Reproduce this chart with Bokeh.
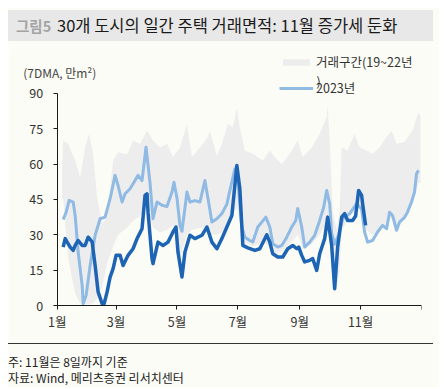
from bokeh.plotting import figure
from bokeh.models import Range1d, FixedTicker, Legend, LegendItem, Label, Div
from bokeh.layouts import column
from bokeh.embed import file_html
from bokeh.resources import INLINE

# ---------------- data (day of year, 7DMA, 만m²) ----------------
month_ticks = [0, 59, 120, 181, 243, 304, 365]
month_labels = ["1월", "3월", "5월", "7월", "9월", "11월", ""]
y_ticks = [0, 15, 30, 45, 60, 75, 90]

band_days = [5, 6, 11, 18, 23, 28, 32, 36, 40, 45, 50, 56, 61, 70, 76, 83, 90, 96, 103, 110,
             116, 123, 130, 135, 143, 150, 153, 160, 165, 171, 176, 180, 183, 188, 196, 206,
             213, 218, 225, 233, 241, 246, 255, 263, 270, 271, 273, 276, 280, 283, 285, 291,
             298, 303, 310, 316, 323, 330, 335, 340, 348, 356, 362, 364]
band_upper = [60, 70, 68.6, 61.5, 54.4, 67.1, 72.8, 64.3, 46, 34.7, 37.5, 61.5, 65, 64, 70,
              68.6, 74.2, 70, 67, 68.6, 63, 67, 77, 63, 67, 70.7, 74.2, 63.5, 68.6, 77, 75.5,
              84, 75.5, 65.7, 64.3, 61.5, 65.7, 63, 60, 64.3, 70, 63, 67, 72.8, 80, 84.8, 70,
              40, 32, 40, 67, 65.7, 72.8, 67, 65.7, 64.3, 67, 71.4, 74.2, 68.6, 69.3, 74.2,
              82, 80]
band_lower = [45, 45, 20, 5, 1, 0.5, 0.5, 1, 3, 8, 18, 25, 30, 33, 36, 38, 42, 33, 31, 32,
              34, 20, 30, 32, 33, 33, 30, 30, 31, 34, 38, 42, 35, 27, 25, 27, 25, 22, 23, 26,
              30, 24, 26, 30, 35, 35, 28, 10, 8, 15, 32, 36, 40, 42, 32, 30, 32, 35, 37, 33,
              38, 44, 52, 52]

days_2023 = [6, 9, 12, 16, 18, 21, 25, 26, 29, 33, 38, 43, 48, 53, 58, 61, 65, 68, 73, 78,
             81, 85, 89, 93, 96, 100, 105, 110, 115, 117, 120, 123, 125, 130, 133, 138, 143,
             148, 151, 155, 160, 165, 170, 173, 178, 180, 185, 188, 193, 196, 201, 205, 209,
             213, 216, 221, 225, 230, 235, 239, 241, 245, 248, 253, 258, 263, 267, 270, 273,
             275, 278, 282, 286, 293, 300, 305, 308, 311, 316, 321, 326, 330, 333, 336, 340,
             343, 348, 351, 355, 358, 360, 362]
vals_2023 = [36.5, 39.6, 44.6, 43.9, 38.2, 22.7, 8.6, 0.8, 4.4, 17, 29.8, 36.8, 37.5, 45.3,
             55.2, 50.9, 43.9, 47.4, 49.5, 53, 55.2, 53, 67.1, 52, 36.8, 43.9, 42.5, 42, 48.1,
             52.3, 45.6, 34, 31.5, 48.1, 43.9, 44.5, 43.9, 53, 45.6, 35.4, 36.8, 39, 43,
             48.8, 58, 58, 33.3, 29, 27.6, 27, 33.3, 35.4, 37.5, 33.3, 26.2, 24.8, 25.5, 29,
             33.3, 36.1, 41.1, 33.3, 24.8, 26.9, 29.8, 36.1, 41.7, 48.8, 43.2, 30.6, 26, 30,
             36.8, 39, 43.2, 41, 31.2, 26.9, 27.6, 31.2, 34, 32.6, 39.6, 38.2, 31.9, 35.4,
             37.4, 39.6, 43.9, 48.1, 55.9, 57.3]

days_2024 = [6, 8, 10, 13, 16, 18, 21, 25, 28, 31, 35, 38, 41, 45, 47, 50, 53, 56, 59, 63,
             66, 71, 76, 80, 85, 88, 90, 91, 95, 96, 101, 106, 111, 116, 119, 121, 125, 128,
             133, 138, 145, 150, 155, 160, 165, 170, 175, 180, 183, 186, 191, 198, 203, 210,
             213, 216, 221, 226, 231, 236, 240, 242, 245, 248, 253, 256, 260, 263, 268, 271,
             275, 278, 281, 285, 288, 291, 296, 299, 302, 305, 306, 309]
vals_2024 = [24.8, 28.4, 26.9, 24.8, 23.4, 25.5, 27.6, 25.5, 25.5, 29, 27, 17, 5.8, 0.8, 0.8,
             5.8, 12.1, 15.7, 21.3, 21.3, 17, 21.3, 24.1, 28.4, 32.6, 46.7, 47.4, 39.6, 19.9,
             17.8, 26.9, 25.5, 26.9, 31.2, 33.3, 22.7, 12.1, 22.7, 29.8, 28.4, 29.8, 33.3,
             26.9, 24.1, 28.4, 33.3, 38.2, 59.4, 49.5, 25.5, 24.5, 23.4, 24.1, 30, 26.9, 22,
             20.6, 20.6, 24.1, 25.5, 24.1, 24.8, 21.3, 18.5, 19.2, 19.9, 14.9, 22, 28.4, 37.5,
             25.5, 7.2, 24.8, 37.5, 39, 36.1, 36.1, 38, 48.8, 46.7, 43.2, 34]

title_tag = "그림5"
title_text = "30개 도시의 일간 주택 거래면적: 11월 증가세 둔화"
y_unit = "(7DMA, 만m²)"
legend_band = "거래구간(19~22년"
legend_2023 = "2023년"
note_lines = ["주: 11월은 8일까지 기준", "자료: Wind, 메리츠증권 리서치센터"]

# ---------------- style ----------------
BG = "#FCFCF6"
FONT = "Noto Sans CJK KR"
BAND = "#EDEDED"
LIGHT = "#8FBAE4"
DARK = "#1E64B4"
TXT = "#333333"

p = figure(width=431, height=290, output_backend="svg", toolbar_location=None,
           x_range=Range1d(-48.8, 365), y_range=Range1d(-12.66, 108.1),
           min_border_left=0, min_border_right=18, min_border_top=5, min_border_bottom=0,
           background_fill_color=BG, border_fill_color=BG, outline_line_color=None)
p.grid.visible = False

band = p.varea(x=band_days, y1=band_lower, y2=band_upper, fill_color=BAND)
l23 = p.line(days_2023, vals_2023, line_color=LIGHT, line_width=3, line_join="round")
l24 = p.line(days_2024, vals_2024, line_color=DARK, line_width=3.5, line_join="round")

for ax in (p.xaxis[0], p.yaxis[0]):
    ax.axis_line_color = "#1a1a1a"
    ax.major_tick_line_color = "#1a1a1a"
    ax.major_tick_out = 4
    ax.major_tick_in = 0
    ax.minor_tick_line_color = None
    ax.major_label_text_font = FONT
    ax.major_label_text_font_size = "12.5px"
    ax.major_label_text_color = TXT

p.yaxis.ticker = FixedTicker(ticks=y_ticks)
p.yaxis.bounds = (0, 90)
p.yaxis.fixed_location = 0
p.yaxis.major_label_standoff = 10
p.xaxis.ticker = FixedTicker(ticks=month_ticks)
p.xaxis.major_label_overrides = {t: s for t, s in zip(month_ticks, month_labels)}
p.xaxis.bounds = (0, 365)
p.xaxis.fixed_location = 0
p.xaxis.major_label_standoff = 2

common = dict(padding=0, margin=0, border_line_color=None, background_fill_alpha=0,
              glyph_width=34, label_standoff=3, label_text_font=FONT,
              label_text_font_size="12.5px", label_text_color=TXT, spacing=0)
leg1 = Legend(items=[LegendItem(label=legend_band, renderers=[band])],
              location=(271, 264), glyph_height=8, label_height=16, **common)
leg2 = Legend(items=[LegendItem(label=legend_2023, renderers=[l23])],
              location=(271, 238), glyph_height=16, label_height=16, **common)
p.add_layout(leg1)
p.add_layout(leg2)

p.add_layout(Label(x=259.7, y=95.4, text=")", text_baseline="middle", text_align="left",
                   text_font=FONT, text_font_size="12.5px", text_color=TXT))
p.add_layout(Label(x=-34.1, y=98.9, text=y_unit, text_baseline="middle", text_align="left",
                   text_font=FONT, text_font_size="12px", text_color="#444444"))

title_div = Div(
    text=(f'<div style="position:relative;margin-top:2px;width:425px;height:31px;'
          f'background:#E8E8E8;font-family:\'{FONT}\';line-height:31px;white-space:nowrap;">'
          f'<span style="position:absolute;left:8px;top:0;font-size:14.5px;font-weight:bold;'
          f'color:#A3A3A3;">{title_tag}</span>'
          f'<span style="position:absolute;left:49px;top:0;font-size:16.5px;color:#1a1a1a;">'
          f'{title_text}</span></div>'),
    width=431, height=37, margin=0, styles={"background-color": BG})

foot_div = Div(
    text=(f'<div style="margin-top:8px;width:425px;border-top:1px solid #333;padding-top:10px;'
          f'font-family:\'{FONT}\';font-size:12px;line-height:15.5px;color:#222;white-space:nowrap;">'
          f'{note_lines[0]}<br>{note_lines[1]}</div>'),
    width=431, height=52, margin=0, styles={"background-color": BG})

layout = column(title_div, p, foot_div, spacing=0, margin=(8, 0, 0, 8))

open("out.html", "w").write(file_html(layout, INLINE))
